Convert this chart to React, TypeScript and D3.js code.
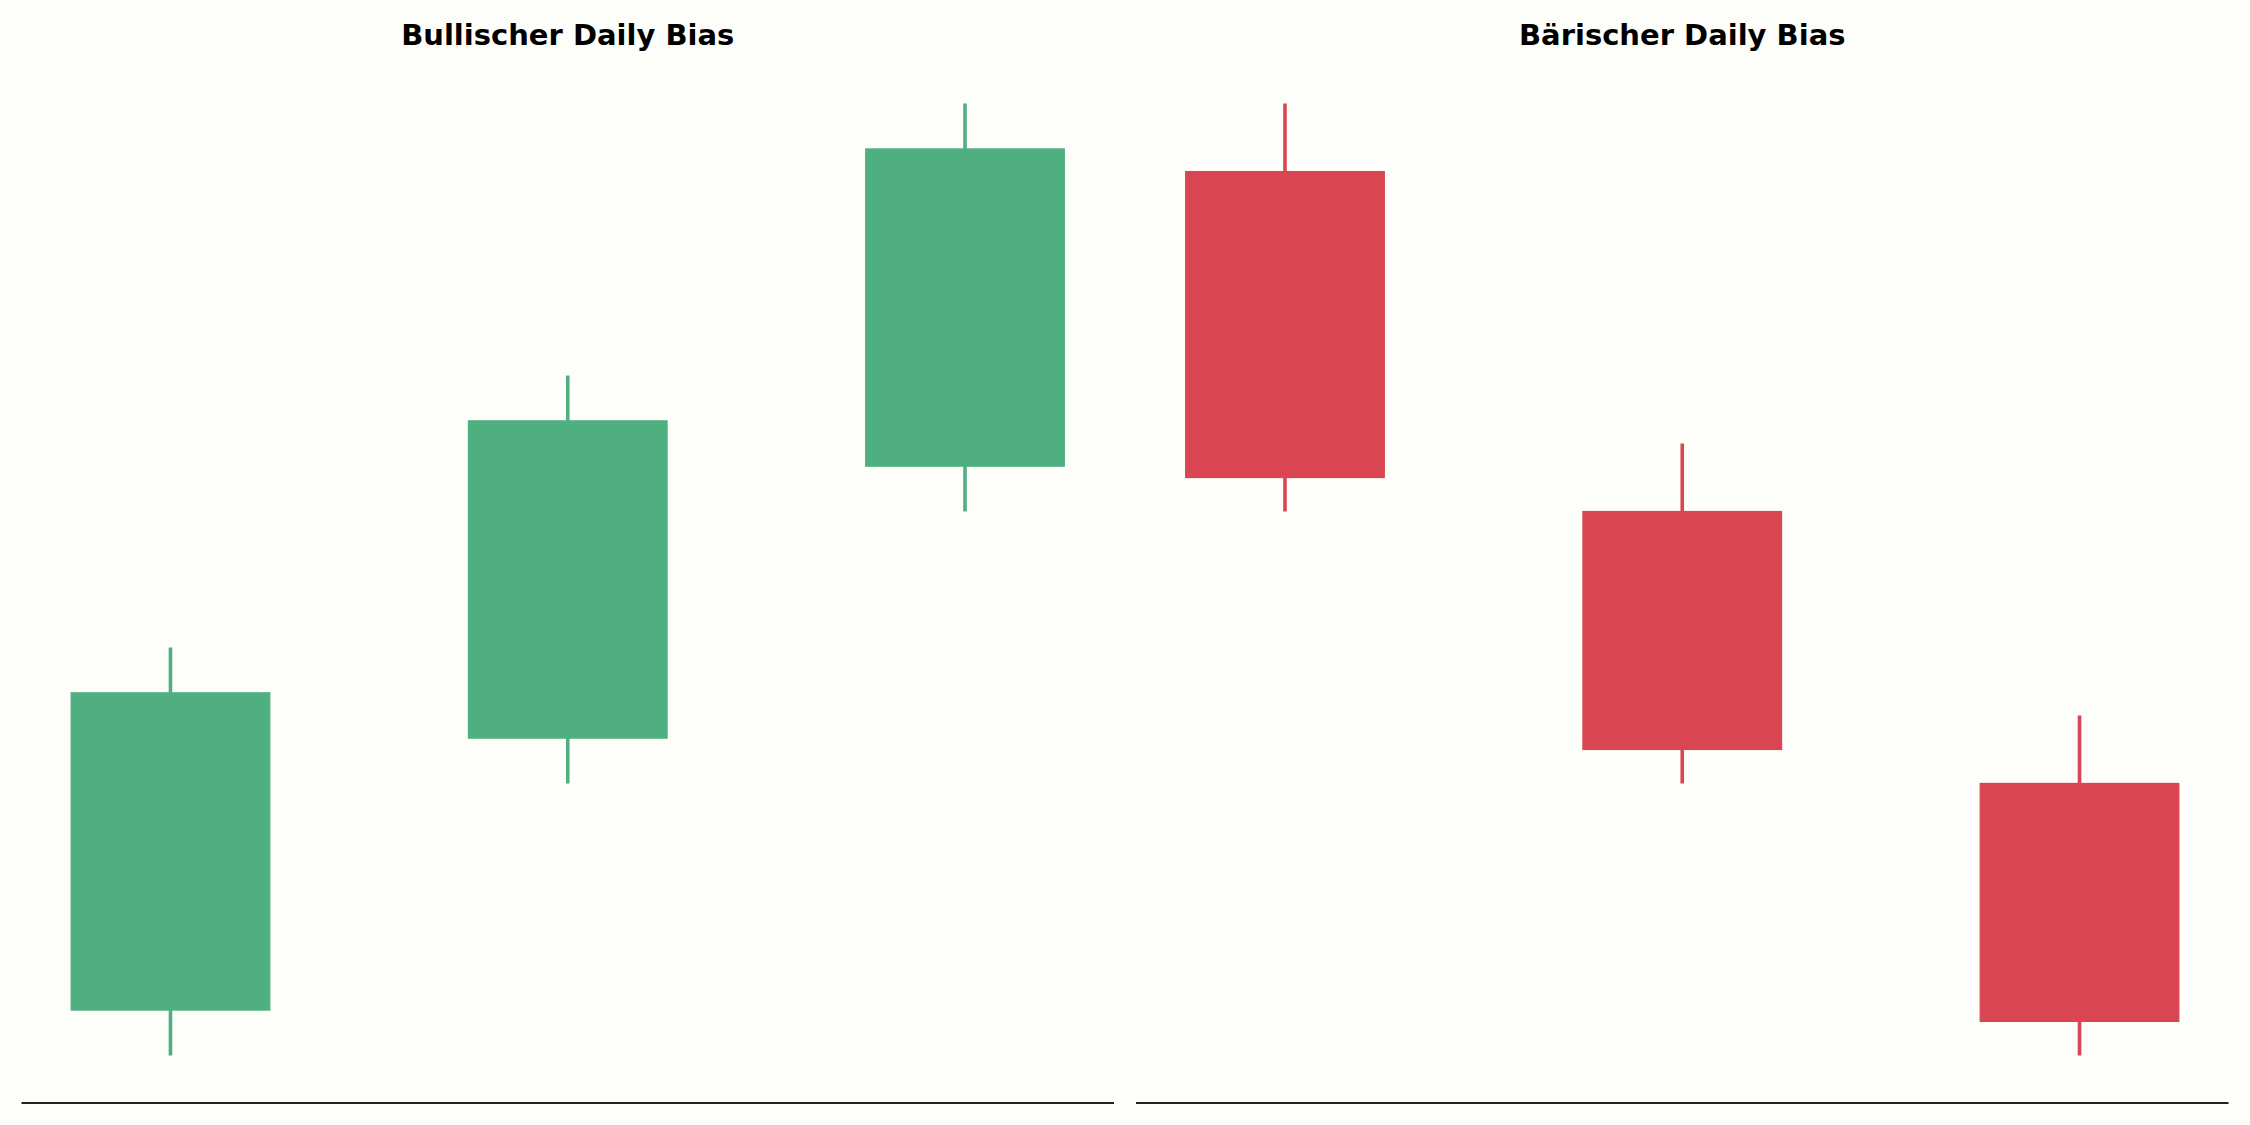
import React from "react";
import * as d3 from "d3";

const W = 2250;
const H = 1125;

const candleIndex = [0, 1, 2];

const bullOpen = [100, 106, 112];
const bullClose = [107, 113, 119];
const bullHigh = [108, 114, 120];
const bullLow = [99, 105, 111];

const bearOpen = [118.5, 111, 105];
const bearClose = [111.75, 105.75, 99.75];
const bearHigh = [120, 112.5, 106.5];
const bearLow = [111, 105, 99];

const titles = ["Bullischer Daily Bias", "Bärischer Daily Bias"];

const BG = "#fdfdfa";
const GREEN = "#4faf80";
const RED = "#d94652";

type PanelProps = {
  x0: number;
  x1: number;
  y0: number;
  y1: number;
  open: number[];
  close: number[];
  high: number[];
  low: number[];
  color: string;
  title: string;
};

function Panel({ x0, x1, y0, y1, open, close, high, low, color, title }: PanelProps) {
  const bodyW = 0.5;
  const xMin = d3.min(candleIndex)! - bodyW / 2;
  const xMax = d3.max(candleIndex)! + bodyW / 2;
  const xPad = (xMax - xMin) * 0.05;
  const x = d3.scaleLinear().domain([xMin - xPad, xMax + xPad]).range([x0, x1]);

  const yMin = d3.min(low)!;
  const yMax = d3.max(high)!;
  const yPad = (yMax - yMin) * 0.05;
  const y = d3.scaleLinear().domain([yMin - yPad, yMax + yPad]).range([y1, y0]);

  return (
    <g>
      <text
        x={(x0 + x1) / 2}
        y={y0 - 11.5}
        textAnchor="middle"
        fontFamily="DejaVu Sans"
        fontWeight="bold"
        fontSize={29}
        fill="#000"
      >
        {title}
      </text>
      {candleIndex.map((i) => (
        <g key={i}>
          <line
            x1={x(i)}
            x2={x(i)}
            y1={y(high[i])}
            y2={y(low[i])}
            stroke={color}
            strokeWidth={3.6}
          />
          <rect
            x={x(i - bodyW / 2)}
            width={x(i + bodyW / 2) - x(i - bodyW / 2)}
            y={y(Math.max(open[i], close[i]))}
            height={Math.abs(y(open[i]) - y(close[i]))}
            fill={color}
            stroke={color}
            strokeWidth={1.2}
          />
        </g>
      ))}
      <line x1={x0} x2={x1} y1={y1} y2={y1} stroke="#222" strokeWidth={2} />
    </g>
  );
}

export default function App() {
  const top = 56;
  const bottom = 1103;
  return (
    <svg
      width={W}
      height={H}
      style={{ position: "fixed", left: 0, top: 0, display: "block" }}
    >
      <rect x={0} y={0} width={W} height={H} fill={BG} />
      <Panel
        x0={21.5}
        x1={1114}
        y0={top}
        y1={bottom}
        open={bullOpen}
        close={bullClose}
        high={bullHigh}
        low={bullLow}
        color={GREEN}
        title={titles[0]}
      />
      <Panel
        x0={1136}
        x1={2228.5}
        y0={top}
        y1={bottom}
        open={bearOpen}
        close={bearClose}
        high={bearHigh}
        low={bearLow}
        color={RED}
        title={titles[1]}
      />
    </svg>
  );
}
